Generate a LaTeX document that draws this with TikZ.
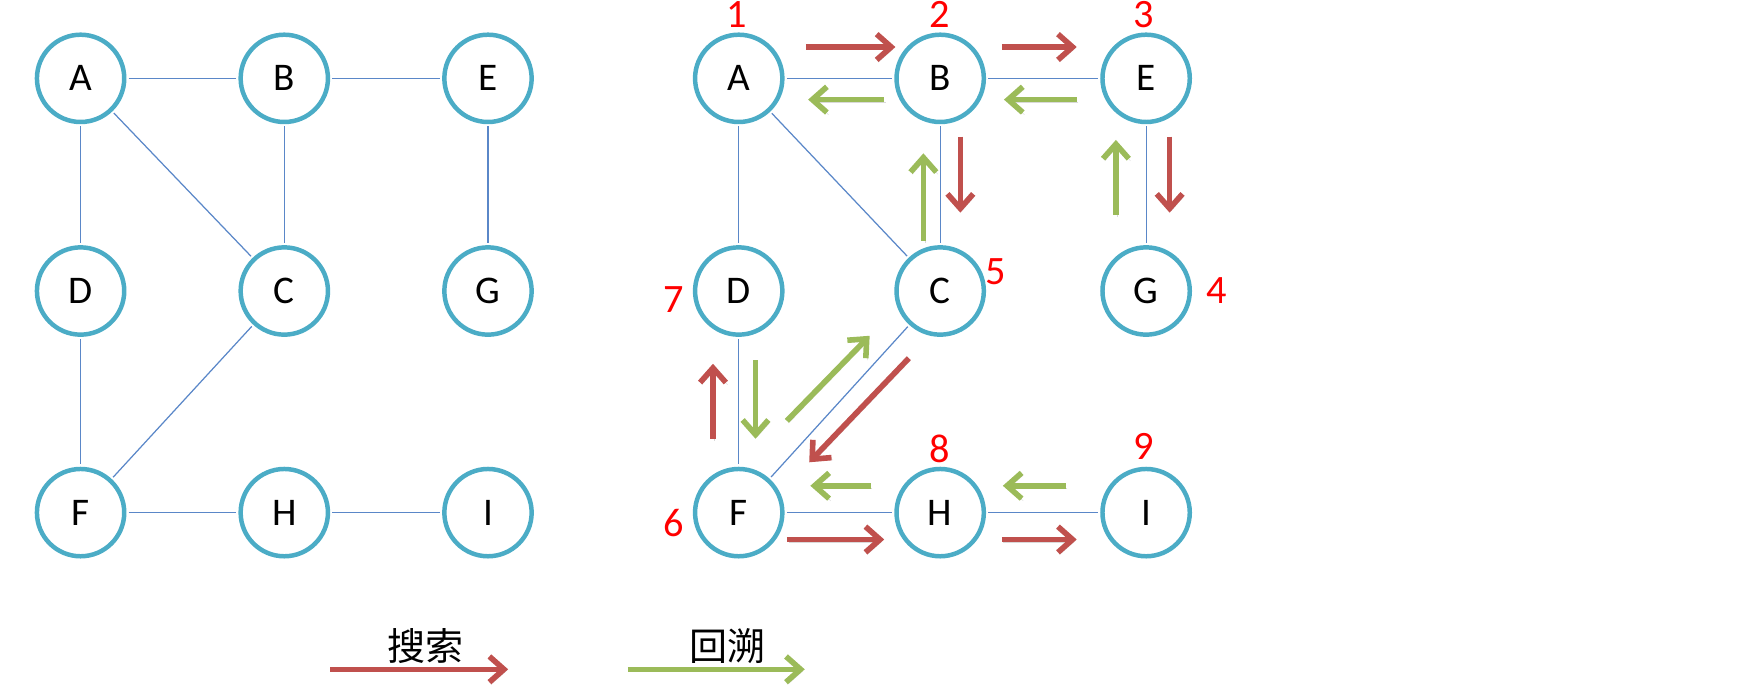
\documentclass[tikz,border=0pt]{standalone}
\usepackage{fontspec}
\setmainfont{Carlito}
\newfontfamily\cjk{Noto Sans CJK SC}
\usetikzlibrary{arrows.meta}
\definecolor{nodeblue}{RGB}{75,172,198}
\definecolor{edgeblue}{RGB}{90,135,200}
\definecolor{srch}{RGB}{192,80,77}
\definecolor{back}{RGB}{155,187,89}
\begin{document}
\begin{tikzpicture}[x=1pt,y=-1pt,
  vtx/.style={circle,draw=nodeblue,line width=4pt,fill=white,minimum size=78pt,inner sep=0pt,font=\fontsize{35}{40}\selectfont},
  edge/.style={draw=edgeblue,line width=1.1pt,shorten <=2pt,shorten >=2pt},
  arr/.style={line width=5pt,-{Straight Barb[length=13pt,width=23pt]},
    preaction={draw=black!50,opacity=0.3,transform canvas={shift={(1.5pt,-2pt)}}}},
  sr/.style={arr,draw=srch},
  bk/.style={arr,draw=back},
  num/.style={text=red,font=\fontsize{36}{40}\selectfont,inner sep=0pt},
  lbl/.style={font=\fontsize{34}{40}\selectfont\cjk,inner sep=0pt}]
\useasboundingbox (0,0) rectangle (1568,615);
% left graph
\node[vtx] (lA) at (72,70) {A};
\node[vtx] (lB) at (254,70) {B};
\node[vtx] (lE) at (436,70) {E};
\node[vtx] (lD) at (72,260) {D};
\node[vtx] (lC) at (254,260) {C};
\node[vtx] (lG) at (436,260) {G};
\node[vtx] (lF) at (72,458) {F};
\node[vtx] (lH) at (254,458) {H};
\node[vtx] (lI) at (436,458) {I};
\foreach \a/\b in {lA/lB,lB/lE,lA/lD,lA/lC,lB/lC,lE/lG,lD/lF,lC/lF,lF/lH,lH/lI}
  \draw[edge] (\a) -- (\b);
% right graph
\node[vtx] (rA) at (660,70) {A};
\node[vtx] (rB) at (840,70) {B};
\node[vtx] (rE) at (1024,70) {E};
\node[vtx] (rD) at (660,260) {D};
\node[vtx] (rC) at (840,260) {C};
\node[vtx] (rG) at (1024,260) {G};
\node[vtx] (rF) at (660,458) {F};
\node[vtx] (rH) at (840,458) {H};
\node[vtx] (rI) at (1024,458) {I};
\foreach \a/\b in {rA/rB,rB/rE,rA/rD,rA/rC,rB/rC,rE/rG,rD/rF,rC/rF,rF/rH,rH/rI}
  \draw[edge] (\a) -- (\b);
% order numbers
\node[num] (n1) at (658,13) {1};
\node[num] (n2) at (840,13) {2};
\node[num] (n3) at (1022,13) {3};
\node[num] (n4) at (1087,260) {4};
\node[num] (n5) at (890,243) {5};
\node[num] (n6) at (602,467) {6};
\node[num] (n7) at (602,268) {7};
\node[num] (n8) at (840,401) {8};
\node[num] (n9) at (1022,399) {9};
% search / backtrack arrows
\draw[sr] (720,42) -- (800,42);
\draw[bk] (790,89) -- (722,89);
\draw[sr] (895,42) -- (962,42);
\draw[bk] (962,89) -- (897,89);
\draw[sr] (858,122) -- (858,190);
\draw[bk] (825,215) -- (825,137);
\draw[bk] (997,192) -- (997,125);
\draw[sr] (1045,122) -- (1045,190);
\draw[sr] (637,392) -- (637,325);
\draw[bk] (675,322) -- (675,392);
\draw[bk] (703,376) -- (777,300);
\draw[sr] (812,320) -- (723,413);
\draw[bk] (778,434) -- (724,434);
\draw[bk] (952,434) -- (896,434);
\draw[sr] (703,482) -- (790,482);
\draw[sr] (895,482) -- (962,482);
% legend
\draw[sr] (295,598) -- (454,598);
\node[lbl] (t1) at (380,577) {搜索};
\draw[bk] (561,598) -- (719,598);
\node[lbl] (t2) at (650,577) {回溯};
\end{tikzpicture}
\end{document}
